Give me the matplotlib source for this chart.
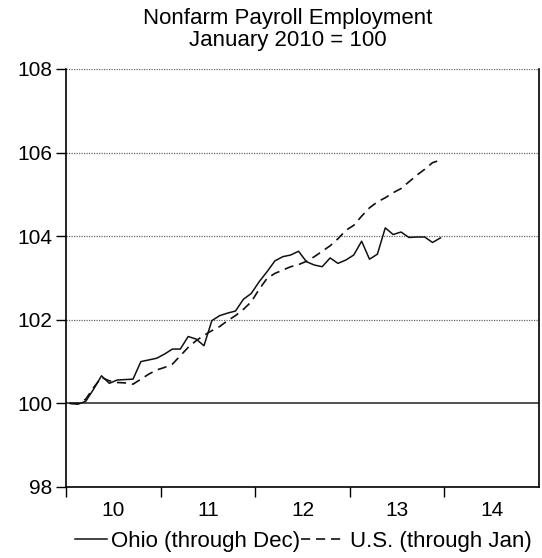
import matplotlib
matplotlib.use("Agg")
import matplotlib.pyplot as plt
from matplotlib.legend_handler import HandlerLine2D
import numpy as np

# Index values, January 2010 = 100 (monthly, starting Jan 2010)
ohio = [100.00, 99.98, 100.05, 100.34, 100.66, 100.48, 100.56, 100.57, 100.58, 101.00,
        101.04, 101.08, 101.18, 101.30, 101.30, 101.60, 101.54, 101.38, 101.98, 102.10,
        102.16, 102.21, 102.49, 102.63, 102.91, 103.15, 103.41, 103.51, 103.55, 103.64,
        103.39, 103.31, 103.27, 103.48, 103.35, 103.43, 103.55, 103.88, 103.45, 103.57,
        104.20, 104.04, 104.10, 103.97, 103.98, 103.98, 103.85, 103.96]
us = [100.00, 100.00, 100.10, 100.38, 100.62, 100.54, 100.50, 100.49, 100.46, 100.58,
      100.70, 100.80, 100.86, 100.94, 101.14, 101.34, 101.50, 101.63, 101.74, 101.84,
      101.98, 102.10, 102.25, 102.43, 102.73, 102.99, 103.11, 103.19, 103.27, 103.32,
      103.40, 103.51, 103.64, 103.77, 103.94, 104.14, 104.26, 104.48, 104.68, 104.82,
      104.92, 105.04, 105.14, 105.30, 105.46, 105.60, 105.76, 105.82]
year_labels = ["10", "11", "12", "13", "14"]
y_ticks = [98, 100, 102, 104, 106, 108]

plt.rcParams['font.family'] = ['Liberation Sans', 'DejaVu Sans']


class PartialHandler(HandlerLine2D):
    """Legend line handler that draws only the right-hand fraction of the handle."""
    def __init__(self, frac=1.0, **kw):
        super().__init__(**kw)
        self.frac = frac

    def get_xdata(self, legend, xdescent, ydescent, width, height, fontsize):
        xdata, xm = super().get_xdata(legend, xdescent, ydescent, width, height, fontsize)
        x0, x1 = xdata[0], xdata[-1]
        xdata = np.linspace(x1 - (x1 - x0) * self.frac, x1, len(xdata))
        return xdata, xm


fig = plt.figure(figsize=(5.42, 5.58), dpi=100)
ax = fig.add_axes([66/542, 1-487/558, (539-66)/542, (487-69)/558])

x_ohio = 2010 + (np.arange(len(ohio)) + 0.5) / 12
x_us = 2010 + (np.arange(len(us)) + 0.5) / 12

l_ohio, = ax.plot(x_ohio, ohio, color='#111111', lw=1.1, label='Ohio (through Dec)', zorder=3)
l_us, = ax.plot(x_us, us, color='#111111', lw=1.2, ls=(0, (5.5, 3.5)), label='U.S. (through Jan)', zorder=3)

ax.set_xlim(2010, 2015)
ax.set_ylim(98, 108)

ax.set_yticks(y_ticks)
ax.set_yticklabels([str(v) for v in y_ticks], fontsize=15)
ax.tick_params(axis='y', length=7, width=1, direction='out', pad=3)

ax.set_xticks([2010, 2011, 2012, 2013, 2014])
ax.set_xticklabels([])
ax.set_xticks([2010.5 + i for i in range(len(year_labels))], minor=True)
ax.set_xticklabels(year_labels, minor=True, fontsize=15)
ax.tick_params(axis='x', which='major', length=7, width=1, direction='out')
ax.tick_params(axis='x', which='minor', length=0, pad=10)

for v in [102, 104, 106, 108]:
    ax.axhline(v, color='#666666', lw=0.9, ls=(0, (1, 1)), zorder=1)
ax.axhline(100, color='#333333', lw=1.2, zorder=2)

ax.spines['top'].set_visible(False)
for s in ['left', 'right', 'bottom']:
    ax.spines[s].set_linewidth(1.2)

fig.text(0.531, 0.985, "Nonfarm Payroll Employment\nJanuary 2010 = 100",
         ha='center', va='top', fontsize=16, linespacing=1.05)

fig.legend(handles=[l_ohio, l_us], loc='center', bbox_to_anchor=(0.548, 0.030), ncol=2,
           frameon=False, fontsize=16, handlelength=2.0, handletextpad=0.2,
           columnspacing=0.05, borderaxespad=0,
           handler_map={l_ohio: PartialHandler(frac=0.72), l_us: PartialHandler(frac=1.0)})

fig.savefig("out.png", dpi=100)
